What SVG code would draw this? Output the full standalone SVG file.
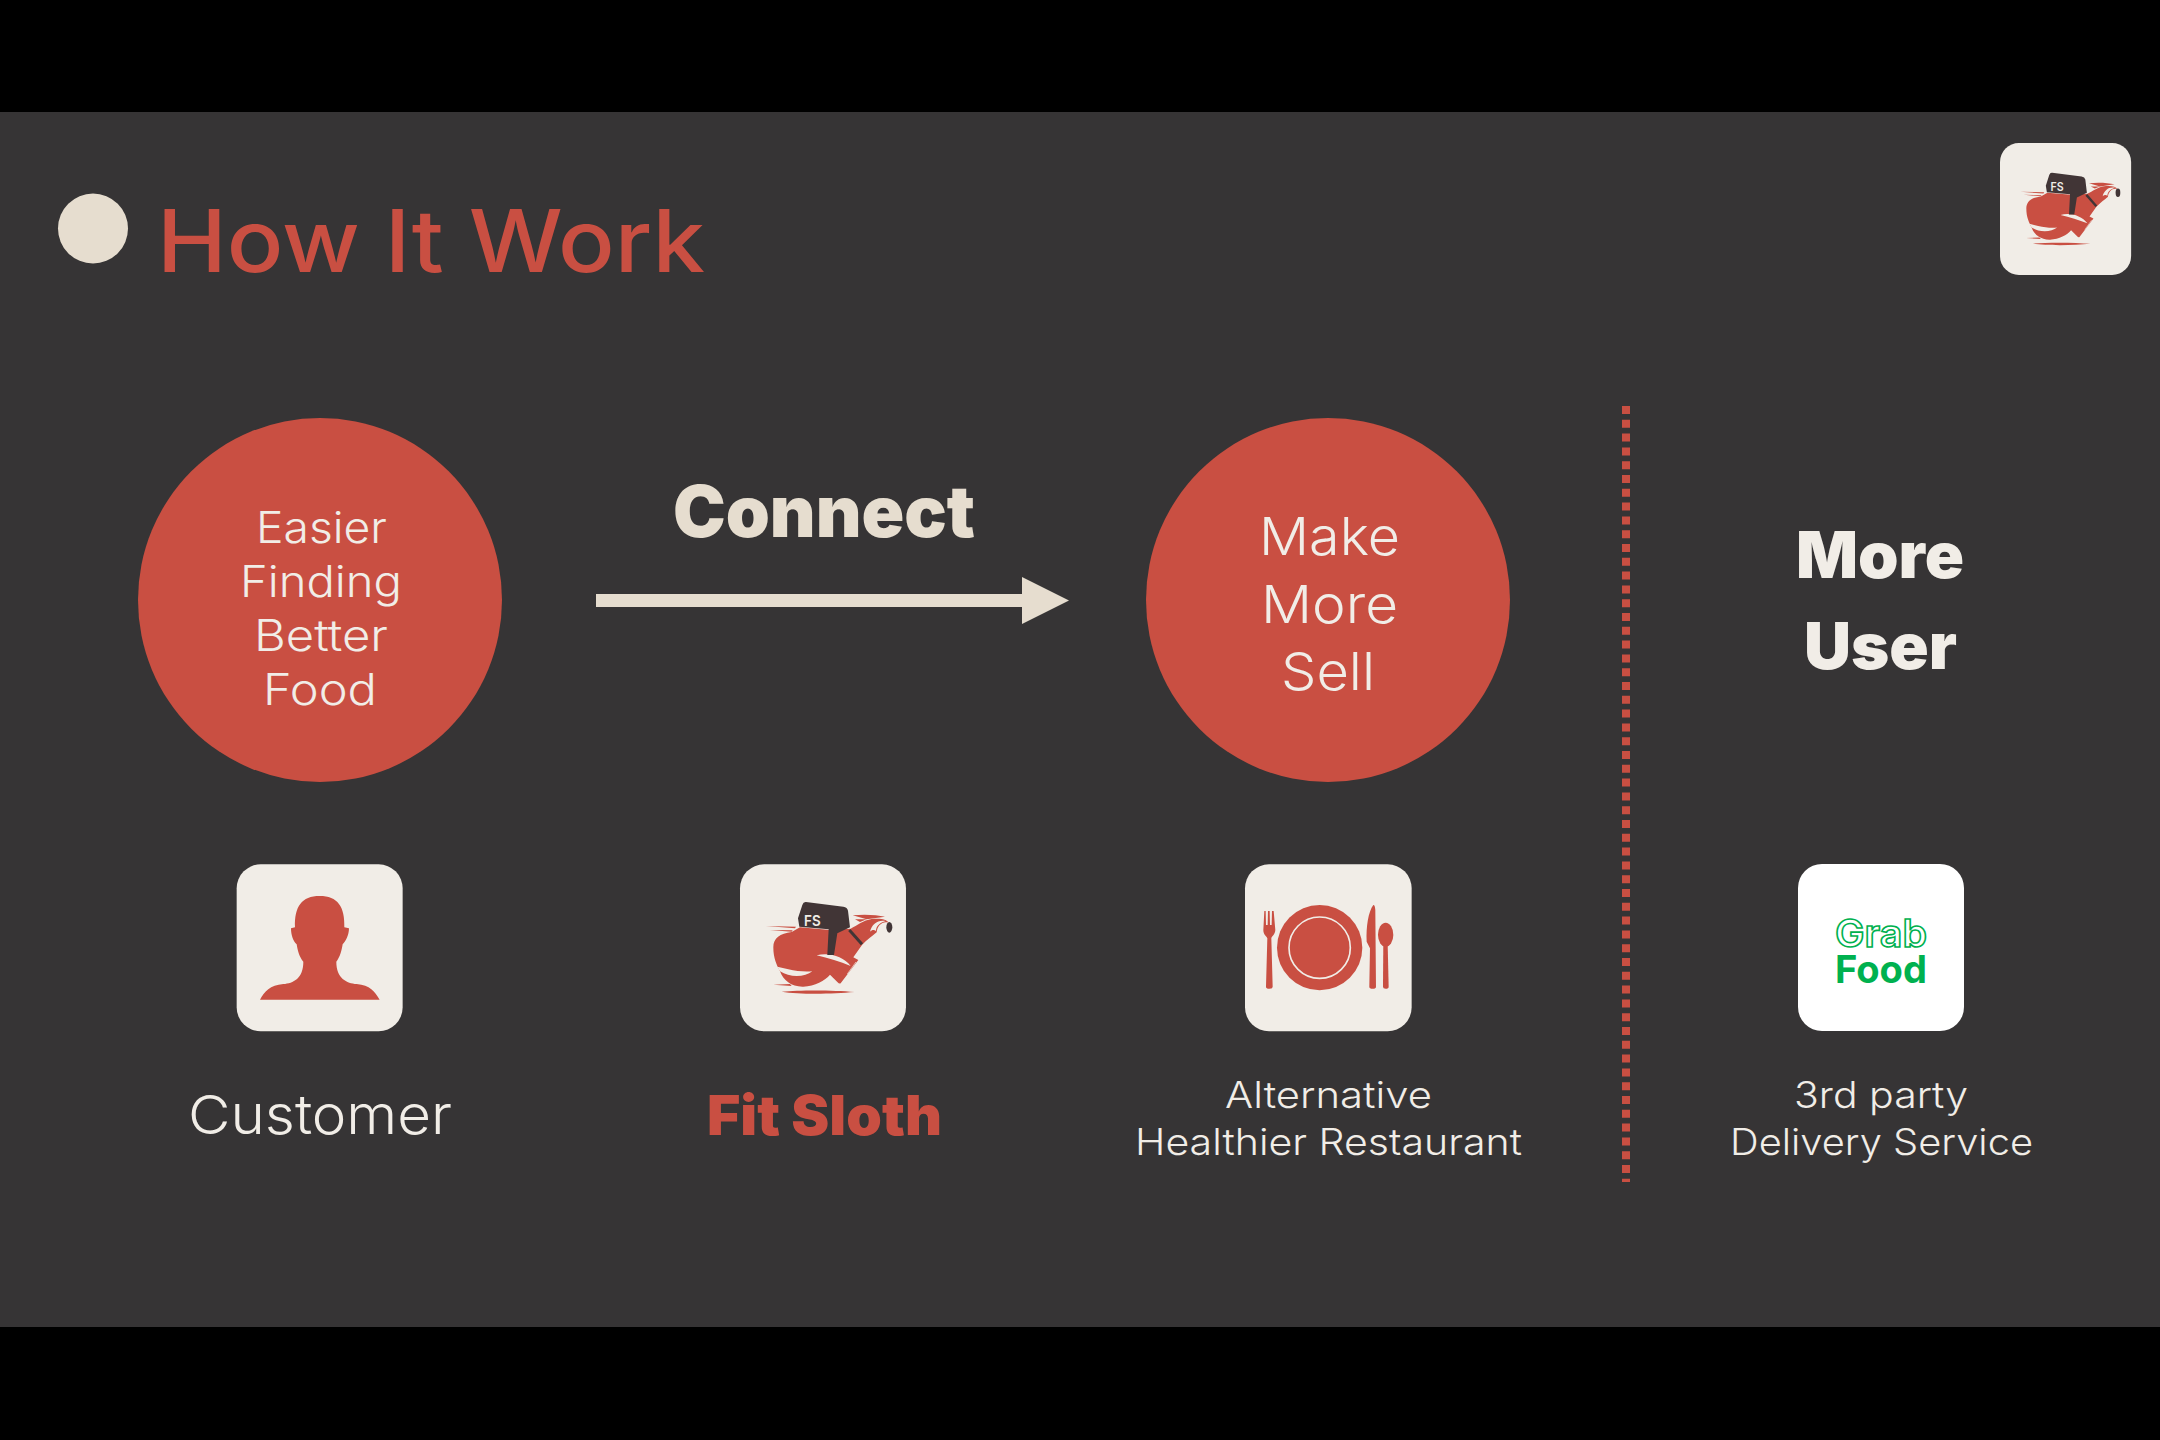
<svg xmlns="http://www.w3.org/2000/svg" width="2160" height="1440" viewBox="0 0 2160 1440">
<style>
.t{font-family:"Inter","Liberation Sans",sans-serif;font-weight:300;fill:#f1ede7}
.b{font-family:"Inter","Liberation Sans",sans-serif;font-weight:900}
.r{fill:#c94f42}
.card{fill:#f1ede7}
</style>
<defs>
<g id="sloth">
<rect class="card" x="60" y="43" width="498" height="501" rx="72"/>
<path class="r" d="M160 292C160 264 180 250 215 246L240 232L330 240L392 236C412 226 430 211 455 207C480 204 500 207 506 218C488 212 472 226 470 247C458 258 440 270 426 285L400 322L415 330L362 400Q358 403 352 396L330 374C315 392 285 408 250 410C215 411 190 392 180 364C170 345 160 325 160 292Z"/>
<path class="r" d="M138 228L228 230L225 235ZM150 240L218 241L215 245ZM160 404L210 402L215 408ZM185 425C240 420 340 420 403 426C340 432 240 434 185 425ZM398 196C430 192 470 194 495 200L440 208ZM405 208L440 208L420 216Z"/>
<path class="card" d="M172 350L205 358C230 364 255 366 277 364C255 382 210 384 180 364ZM290 316C325 306 370 318 392 348C360 335 325 325 290 316ZM450 245C455 222 475 208 497 213C480 218 468 228 468 243C462 238 455 240 450 245Z"/>
<path fill="none" stroke="#f1ede7" stroke-width="2" d="M382 372L408 336M390 372L414 342"/>
<path fill="#413536" d="M258 156L370 170Q382 172 384 182L390 232L352 250L342 315L322 315L326 238L238 230L234 205L247 165Q250 155 258 156Z"/>
<path fill="none" stroke="#413536" stroke-width="9" d="M388 240L426 283"/>
<ellipse cx="508" cy="232" rx="9" ry="16" fill="#413536"/>
<text x="252" y="227" font-family="Inter,'Liberation Sans',sans-serif" font-weight="600" font-size="44" fill="#f1ede7" textLength="50" lengthAdjust="spacingAndGlyphs">FS</text>
</g>
</defs>
<rect width="2160" height="1440" fill="#000"/>
<rect y="112" width="2160" height="1215" fill="#363435"/>
<g id="title">
<circle cx="93" cy="228.500" r="35" fill="#e6ddcf"/>
<text x="157" y="272" font-family="Inter,'Liberation Sans',sans-serif" font-weight="500" font-size="87" fill="#c94f42" textLength="548" lengthAdjust="spacingAndGlyphs">How It Work</text>
</g>
<g id="logo-top" transform="translate(2000 143) scale(0.79) scale(0.3333) translate(-60 -43)"><use href="#sloth"/></g>
<g id="circle-customer">
<circle class="r" cx="320" cy="600" r="182"/>
<text class="t" x="256" y="543" font-size="43" textLength="131" lengthAdjust="spacingAndGlyphs">Easier</text>
<text class="t" x="240" y="597" font-size="43" textLength="162" lengthAdjust="spacingAndGlyphs">Finding</text>
<text class="t" x="254" y="651" font-size="43" textLength="134" lengthAdjust="spacingAndGlyphs">Better</text>
<text class="t" x="263" y="705" font-size="43" textLength="114" lengthAdjust="spacingAndGlyphs">Food</text>
</g>
<g id="label-connect">
<text class="b" x="673" y="537" font-size="71" fill="#e6ddcf" textLength="302" lengthAdjust="spacingAndGlyphs">Connect</text>
</g>
<g id="connectors">
<path fill="#e6ddcf" d="M596 594H1022V577L1069 600.500L1022 624V607H596Z"/>
<path fill="none" stroke="#c94f42" stroke-width="8" stroke-dasharray="8 5.800" d="M1626 406V1182"/>
</g>
<g id="circle-restaurant">
<circle class="r" cx="1328" cy="600" r="182"/>
<text class="t" x="1259" y="555" font-size="52" textLength="141" lengthAdjust="spacingAndGlyphs">Make</text>
<text class="t" x="1261" y="623" font-size="52" textLength="137" lengthAdjust="spacingAndGlyphs">More</text>
<text class="t" x="1281" y="690" font-size="52" textLength="94" lengthAdjust="spacingAndGlyphs">Sell</text>
</g>
<g id="label-more-user">
<text class="b" x="1796" y="578" font-size="64" fill="#f1ede7" textLength="168" lengthAdjust="spacingAndGlyphs">More</text>
<text class="b" x="1804" y="669" font-size="64" fill="#f1ede7" textLength="153" lengthAdjust="spacingAndGlyphs">User</text>
</g>
<g id="customer">
<g transform="translate(225 850) scale(0.3333)">
<rect class="card" x="35" y="43" width="498" height="501" rx="72"/>
<path class="r" d="M105 449C118 425 135 405 175 402C205 400 235 385 235 335C222 320 218 300 215 283C205 275 198 255 198 235L210 232C208 170 230 138 284 138C338 138 360 170 358 232L372 235C372 255 362 275 353 283C350 300 346 320 334 335C334 385 365 400 395 402C435 405 450 425 464 449Z"/>
</g>
<text class="t" x="188" y="1134" font-size="54" textLength="264" lengthAdjust="spacingAndGlyphs">Customer</text>
</g>
<g id="fit-sloth">
<g transform="translate(720 850) scale(0.3333)"><use href="#sloth"/></g>
<text class="b" x="707" y="1135" font-size="55" fill="#c94f42" textLength="235" lengthAdjust="spacingAndGlyphs">Fit Sloth</text>
</g>
<g id="restaurant">
<g transform="translate(1230 850) scale(0.3333)">
<rect class="card" x="45" y="43" width="500" height="501" rx="72"/>
<circle class="r" cx="269" cy="293" r="128"/>
<circle cx="269" cy="293" r="92" fill="none" stroke="#f1ede7" stroke-width="5"/>
<path class="r" d="M100 240L103 183L107 183L108 225L113 225L114 183L119 183L120 225L125 225L126 183L131 183L136 240C135 255 125 258 124 265L128 410Q128 416 118 416Q108 416 108 410L112 265C110 258 100 255 100 240Z"/>
<path class="r" d="M430 165C434 165 435 170 436 180L438 410Q438 416 428 416Q418 416 418 410L420 295L410 275C408 230 415 185 430 165Z"/>
<ellipse class="r" cx="467" cy="254" rx="23" ry="36"/>
<path class="r" d="M460 280L459 410Q459 416 467 416Q476 416 476 410L473 280Z"/>
</g>
<text class="t" x="1225" y="1108" font-size="37" textLength="207" lengthAdjust="spacingAndGlyphs">Alternative</text>
<text class="t" x="1135" y="1155" font-size="37" textLength="387" lengthAdjust="spacingAndGlyphs">Healthier Restaurant</text>
</g>
<g id="grabfood">
<rect x="1798" y="864" width="166" height="167" rx="24" fill="#fff"/>
<text x="1835" y="947" font-family="Inter,'Liberation Sans',sans-serif" font-weight="600" font-size="38" fill="#fff" stroke="#00b14f" stroke-width="1.600" textLength="92" lengthAdjust="spacingAndGlyphs">Grab</text>
<text x="1835" y="983" font-family="Inter,'Liberation Sans',sans-serif" font-weight="700" font-size="38" fill="#00b14f" textLength="92" lengthAdjust="spacingAndGlyphs">Food</text>
<text class="t" x="1794" y="1108" font-size="37" textLength="174" lengthAdjust="spacingAndGlyphs">3rd party</text>
<text class="t" x="1730" y="1155" font-size="37" textLength="303" lengthAdjust="spacingAndGlyphs">Delivery Service</text>
</g>
</svg>
